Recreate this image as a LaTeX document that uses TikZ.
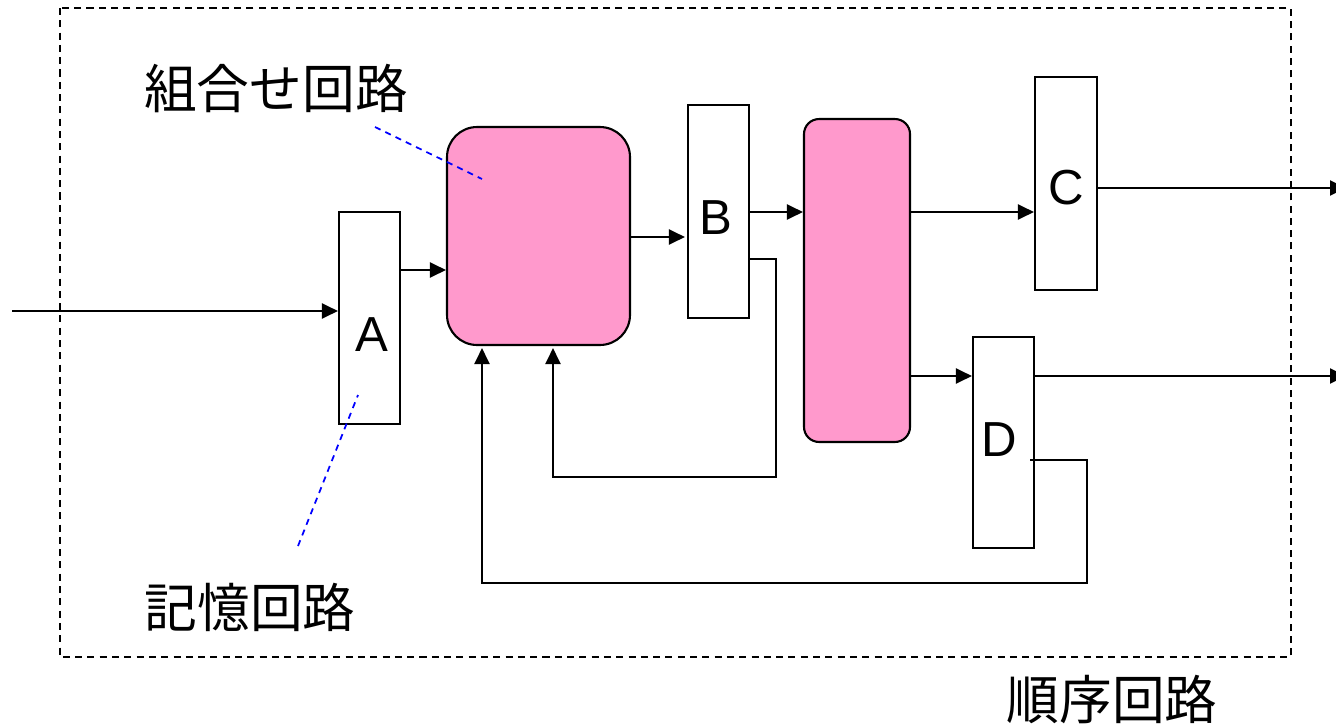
\documentclass[tikz,border=0pt]{standalone}
\usepackage{fontspec}
\setmainfont{Liberation Sans}
\newfontfamily\jpfont{Noto Sans CJK JP}
\usetikzlibrary{arrows.meta,calc}

\definecolor{combpink}{HTML}{FF99CC}

\tikzset{
  regbox/.style={draw, line width=1.2pt, fill=white, minimum width=1.22cm, minimum height=4.24cm, inner sep=0pt},
  regname/.style={font=\fontsize{28}{30}\selectfont, inner sep=0pt},
  combbox/.style={draw, line width=1.2pt, fill=combpink, inner sep=0pt},
  arr/.style={line width=1.2pt, -{Triangle[length=0.32cm,width=0.3cm]}},
  wire/.style={line width=1.2pt},
  pointer/.style={blue, line width=1pt, dash pattern=on 3.5pt off 3pt},
  jplabel/.style={font=\jpfont\fontsize{30}{36}\selectfont, inner sep=0pt}
}

\begin{document}
\begin{tikzpicture}[x=0.02cm,y=-0.02cm]

\useasboundingbox (0,0) rectangle (1336,727);

% Sequential circuit frame
\draw[line width=1.2pt, dash pattern=on 4pt off 3pt] (60,8) rectangle (1291,657);

% Combinational blocks
\node[combbox, minimum width=3.66cm, minimum height=4.36cm, rounded corners=0.6cm] (comb1) at (538.5,236) {};
\node[combbox, minimum width=2.12cm, minimum height=6.46cm, rounded corners=0.3cm] (comb2) at (857,280.5) {};

% Registers
\node[regbox] (A) at (369.5,318) {};
\node[regbox, minimum height=4.26cm] (B) at (718.5,211.5) {};
\node[regbox, minimum width=1.24cm, minimum height=4.26cm] (C) at (1066,183.5) {};
\node[regbox, minimum height=4.22cm] (D) at (1003.5,442.5) {};
\node[regname] (Aname) at (372,335) {A};
\node[regname] (Bname) at (716,218) {B};
\node[regname] (Cname) at (1066,188) {C};
\node[regname] (Dname) at (999,440) {D};

% Forward path
\coordinate (in) at (12,311);
\draw[arr] (in) -- (in -| A.west);
\draw[arr] (A.east |- 0,270) -- (comb1.west |- 0,270);
\draw[arr] (comb1.east |- 0,237) -- ($(B.west |- 0,237)+(-2,0)$);
\draw[arr] (B.east |- 0,212) -- (comb2.west |- 0,212);
\draw[arr] (comb2.east |- 0,212) -- (C.west |- 0,212);
\draw[arr] (comb2.east |- 0,376) -- (D.west |- 0,376);

% Outputs
\coordinate (outC) at (1346,188);
\coordinate (outD) at (1346,376);
\draw[arr] (C.east |- outC) -- (outC);
\draw[arr] (D.east |- outD) -- (outD);

% Feedback from B
\coordinate (fbB) at (776,477);
\draw[arr] (B.east |- 0,259) -- (fbB |- 0,259) -- (fbB) -- (553,477) -- ($(comb1.south -| 553,0)+(0,2)$);

% Feedback from D
\coordinate (fbD) at (1087,583);
\draw[arr] (1030,460) -- (fbD |- 0,460) -- (fbD) -- (482,583) -- ($(comb1.south -| 482,0)+(0,2)$);

% Labels
\node[jplabel] (comblabel) at (276,88) {組合せ回路};
\node[jplabel] (memlabel) at (250,607) {記憶回路};
\node[jplabel] (seqlabel) at (1112,700) {順序回路};

\draw[pointer] (375,127) -- (482,179);
\draw[pointer] (298,546) -- (358,395);

\end{tikzpicture}
\end{document}
